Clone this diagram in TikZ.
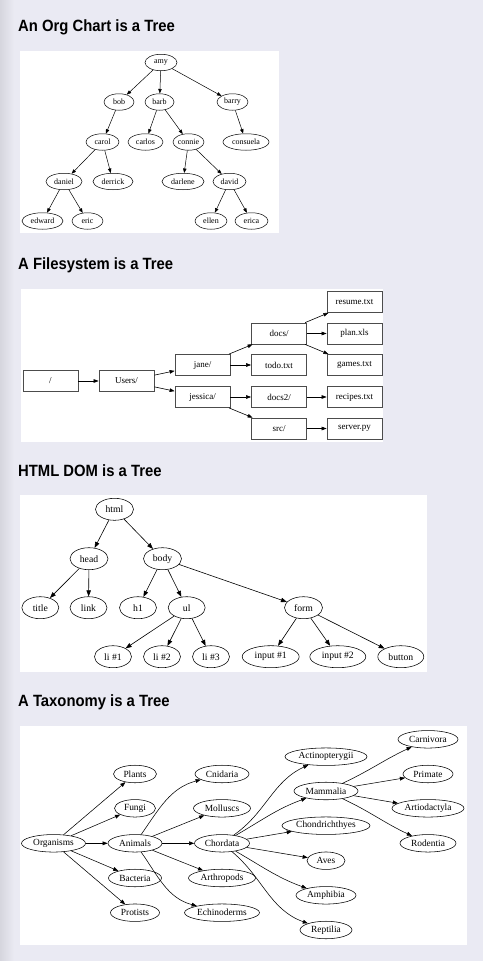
\documentclass[tikz,border=0pt]{standalone}
\usepackage{fontspec}
\setmainfont{Liberation Serif}
\newfontfamily\titlefont{Liberation Sans}[FakeStretch=0.91]
\usetikzlibrary{shapes.geometric,arrows.meta}
\definecolor{pagebg}{RGB}{234,234,243}
\definecolor{edgegray}{RGB}{214,214,222}
\begin{document}
\begin{tikzpicture}[x=1pt,y=1pt,
  ttl/.style={anchor=base west,inner sep=0pt,font=\titlefont\bfseries\fontsize{16.3}{18}\selectfont},
  panel/.style={fill=white,draw=none},
  orgn/.style={draw,ellipse,inner sep=0pt,line width=0.5pt,minimum height=16.5pt,minimum width=#1pt,font=\fontsize{8}{9}\selectfont},
  fsn/.style={draw=black!70,rectangle,inner sep=0pt,line width=0.75pt,minimum height=21pt,minimum width=55pt,font=\fontsize{9}{10}\selectfont},
  domn/.style={draw,ellipse,inner sep=0pt,line width=0.55pt,minimum height=22pt,minimum width=#1pt,font=\fontsize{9.7}{10}\selectfont},
  taxn/.style={draw,ellipse,inner sep=0pt,line width=0.55pt,minimum height=17.5pt,minimum width=#1pt,font=\fontsize{9.4}{10}\selectfont},
  orge/.style={-{Triangle[length=4.5pt,width=3.4pt]},line width=0.5pt},
  fse/.style={-{Triangle[length=5pt,width=3.6pt]},line width=0.6pt},
  dome/.style={-{Triangle[length=6pt,width=4.4pt]},line width=0.6pt},
  taxe/.style={-{Triangle[length=5.2pt,width=3.8pt]},line width=0.55pt},
]
\useasboundingbox (0,0) rectangle (483,-961);
\fill[pagebg] (0,0) rectangle (483,-961);
\shade[left color=edgegray,right color=pagebg] (0,0) rectangle (14,-961);

% ---------- Titles ----------
\node[ttl] (t1) at (18,-31.7) {An Org Chart is a Tree};
\node[ttl] (t2) at (18,-269) {A Filesystem is a Tree};
\node[ttl] (t3) at (18,-476.7) {HTML DOM is a Tree};
\node[ttl] (t4) at (18,-706.7) {A Taxonomy is a Tree};

% ---------- Panels ----------
\fill[panel] (20,-51) rectangle (279,-233);
\fill[panel] (21,-289) rectangle (383,-442);
\fill[panel] (19.5,-495) rectangle (427,-672);
\fill[panel] (19.5,-726) rectangle (467,-945);

% ---------- Org chart ----------
\node[orgn=32] (amy) at (161,-62.5) {amy};
\node[orgn=30] (bob) at (119,-102) {bob};
\node[orgn=29] (barb) at (159.5,-102) {barb};
\node[orgn=31] (barry) at (232.5,-102) {barry};
\node[orgn=33] (carol) at (102.5,-142) {carol};
\node[orgn=35] (carlos) at (145.5,-142) {carlos};
\node[orgn=31] (connie) at (188.5,-142) {connie};
\node[orgn=46] (consuela) at (246,-142) {consuela};
\node[orgn=36] (daniel) at (64,-181.5) {daniel};
\node[orgn=40] (derrick) at (113,-181.5) {derrick};
\node[orgn=42] (darlene) at (183,-181.5) {darlene};
\node[orgn=33] (david) at (229.5,-181.5) {david};
\node[orgn=41] (edward) at (42.5,-221) {edward};
\node[orgn=31] (eric) at (87.5,-221) {eric};
\node[orgn=32] (ellen) at (211,-221) {ellen};
\node[orgn=33] (erica) at (251.5,-221) {erica};
\draw[orge] (amy) -- (bob);
\draw[orge] (amy) -- (barb);
\draw[orge] (amy) -- (barry);
\draw[orge] (bob) -- (carol);
\draw[orge] (barb) -- (carlos);
\draw[orge] (barb) -- (connie);
\draw[orge] (barry) -- (consuela);
\draw[orge] (carol) -- (daniel);
\draw[orge] (carol) -- (derrick);
\draw[orge] (connie) -- (darlene);
\draw[orge] (connie) -- (david);
\draw[orge] (daniel) -- (edward);
\draw[orge] (daniel) -- (eric);
\draw[orge] (david) -- (ellen);
\draw[orge] (david) -- (erica);

% ---------- Filesystem ----------
\node[fsn] (root) at (50.5,-381) {/};
\node[fsn] (users) at (126.5,-381) {Users/};
\node[fsn] (jane) at (202.5,-365) {jane/};
\node[fsn] (jessica) at (202.5,-397) {jessica/};
\node[fsn] (docs) at (279,-333.5) {docs/};
\node[fsn] (todo) at (279,-365) {todo.txt};
\node[fsn] (docstwo) at (279,-397) {docs2/};
\node[fsn] (src) at (279,-428.5) {src/};
\node[fsn] (resume) at (354.5,-302) {resume.txt};
\node[fsn] (plan) at (354.5,-333.5) {plan.xls};
\node[fsn] (games) at (354.5,-365) {games.txt};
\node[fsn] (recipes) at (354.5,-397) {recipes.txt};
\node[fsn] (server) at (354.5,-428.5) {server.py};
\draw[fse] (root) -- (users);
\draw[fse] (users) -- (jane);
\draw[fse] (users) -- (jessica);
\draw[fse] (jane) -- (docs);
\draw[fse] (jane) -- (todo);
\draw[fse] (jessica) -- (docstwo);
\draw[fse] (jessica) -- (src);
\draw[fse] (docs) -- (resume);
\draw[fse] (docs) -- (plan);
\draw[fse] (docs) -- (games);
\draw[fse] (docstwo) -- (recipes);
\draw[fse] (src) -- (server);

% ---------- HTML DOM ----------
\node[domn=38] (html) at (114.5,-509.3) {html};
\node[domn=38] (head) at (89,-558.7) {head};
\node[domn=38] (body) at (162.5,-558.7) {body};
\node[domn=37] (title) at (40.3,-607.7) {title};
\node[domn=37] (link) at (88.5,-607.7) {link};
\node[domn=37] (hone) at (138,-607.7) {h1};
\node[domn=37] (ul) at (186.7,-607.7) {ul};
\node[domn=38] (form) at (303.5,-607.7) {form};
\node[domn=37] (lia) at (113,-656.7) {li \#1};
\node[domn=37] (lib) at (162,-656.7) {li \#2};
\node[domn=37] (lic) at (211,-656.7) {li \#3};
\node[domn=57] (inpa) at (270.7,-656.7) {input \#1};
\node[domn=56] (inpb) at (337.8,-656.7) {input \#2};
\node[domn=46] (button) at (400.8,-656.7) {button};
\draw[dome] (html) -- (head);
\draw[dome] (html) -- (body);
\draw[dome] (head) -- (title);
\draw[dome] (head) -- (link);
\draw[dome] (body) -- (hone);
\draw[dome] (body) -- (ul);
\draw[dome] (body) -- (form);
\draw[dome] (ul) -- (lia);
\draw[dome] (ul) -- (lib);
\draw[dome] (ul) -- (lic);
\draw[dome] (form) -- (inpa);
\draw[dome] (form) -- (inpb);
\draw[dome] (form) -- (button);

% ---------- Taxonomy ----------
\node[taxn=64] (organisms) at (53.5,-843.3) {Organisms};
\node[taxn=43] (plants) at (135,-774) {Plants};
\node[taxn=41] (fungi) at (135,-808.3) {Fungi};
\node[taxn=54] (animals) at (135,-843.3) {Animals};
\node[taxn=53] (bacteria) at (135,-878) {Bacteria};
\node[taxn=49] (protists) at (135,-912.7) {Protists};
\node[taxn=54] (cnidaria) at (222,-774) {Cnidaria};
\node[taxn=57] (molluscs) at (222,-808.3) {Molluscs};
\node[taxn=55] (chordata) at (222,-843.3) {Chordata};
\node[taxn=67] (arthropods) at (222,-878) {Arthropods};
\node[taxn=75] (echinoderms) at (222,-912.7) {Echinoderms};
\node[taxn=82] (actino) at (326,-756.7) {Actinopterygii};
\node[taxn=64] (mammalia) at (326,-791) {Mammalia};
\node[taxn=88] (chondri) at (326,-825.7) {Chondrichthyes};
\node[taxn=38] (aves) at (326,-860.7) {Aves};
\node[taxn=60] (amphibia) at (326,-895.3) {Amphibia};
\node[taxn=52] (reptilia) at (326,-930) {Reptilia};
\node[taxn=60] (carnivora) at (428,-739.3) {Carnivora};
\node[taxn=50] (primate) at (428,-774) {Primate};
\node[taxn=72] (artio) at (428,-808.3) {Artiodactyla};
\node[taxn=56] (rodentia) at (428,-843.3) {Rodentia};
\draw[taxe] (organisms) -- (plants);
\draw[taxe] (organisms) -- (fungi);
\draw[taxe] (organisms) -- (animals);
\draw[taxe] (organisms) -- (bacteria);
\draw[taxe] (organisms) -- (protists);
\draw[taxe] (animals) to[out=55,in=195] (cnidaria);
\draw[taxe] (animals) -- (molluscs);
\draw[taxe] (animals) -- (chordata);
\draw[taxe] (animals) -- (arthropods);
\draw[taxe] (animals) to[out=-55,in=165] (echinoderms);
\draw[taxe] (chordata) to[out=35,in=205] (actino);
\draw[taxe] (chordata) to[out=30,in=200] (mammalia);
\draw[taxe] (chordata) -- (chondri);
\draw[taxe] (chordata) -- (aves);
\draw[taxe] (chordata) to[out=-30,in=160] (amphibia);
\draw[taxe] (chordata) to[out=-40,in=160] (reptilia);
\draw[taxe] (mammalia) to[out=25,in=205] (carnivora);
\draw[taxe] (mammalia) -- (primate);
\draw[taxe] (mammalia) -- (artio);
\draw[taxe] (mammalia) to[out=-25,in=155] (rodentia);
\end{tikzpicture}
\end{document}
